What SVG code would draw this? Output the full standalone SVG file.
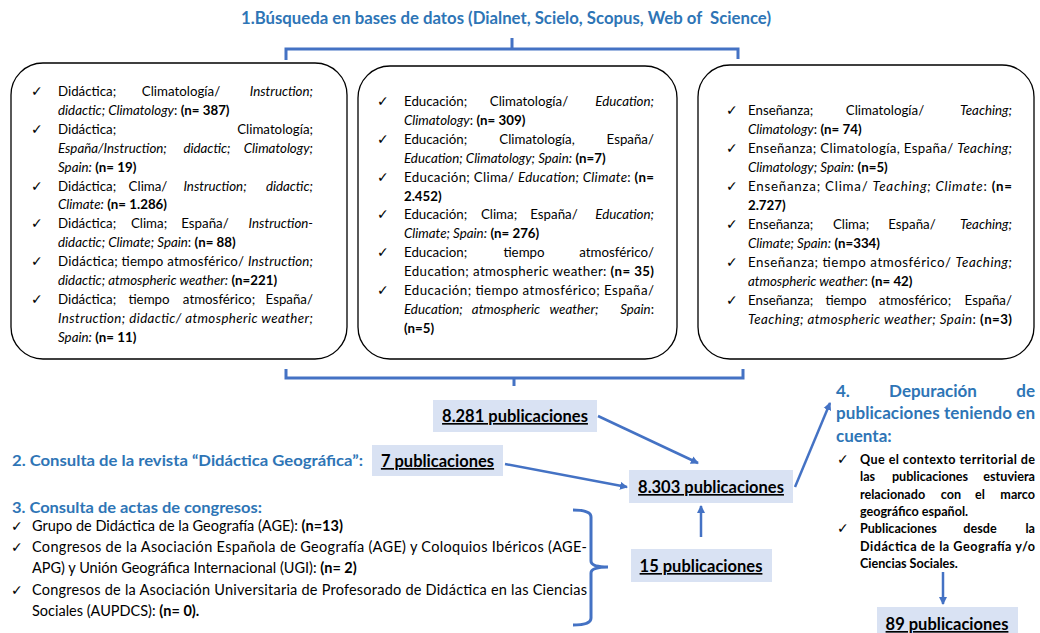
<svg xmlns="http://www.w3.org/2000/svg" width="1040" height="633" viewBox="0 0 1040 633">
<style>
.t{font-family:Lato,"Open Sans","Liberation Sans",sans-serif;font-size:13.3px;fill:#000}
.s3{font-family:Lato,"Open Sans","Liberation Sans",sans-serif;font-size:14.5px;fill:#000}
.s4{font-family:Lato,"Open Sans","Liberation Sans",sans-serif;font-size:12.6px;font-weight:bold;fill:#000}
.i{font-style:italic}
.b{font-weight:bold}
.ck{font-family:"DejaVu Sans",sans-serif;font-size:14px;fill:#000}
.h{font-family:Lato,"Open Sans","Liberation Sans",sans-serif;font-weight:bold;fill:#2E75B6}
.pub{font-family:Lato,"Open Sans","Liberation Sans",sans-serif;font-weight:bold;font-size:16.5px;text-decoration:underline;fill:#000}
.box{fill:#fff;stroke:#000;stroke-width:1.3}
.pb{fill:#D9E2F3}
.ln{stroke:#4472C4;stroke-width:2.5;fill:none}
.br{stroke:#4472C4;stroke-width:3;fill:none}
</style>
<defs>
<marker id="ah" markerWidth="10" markerHeight="10" refX="7" refY="5" orient="auto" markerUnits="userSpaceOnUse">
<path d="M0,1 L8,5 L0,9 Z" fill="#4472C4"/>
</marker>
</defs>

<g id="title">
<text class="h" x="241" y="24" font-size="16.5" textLength="530" lengthAdjust="spacingAndGlyphs" xml:space="preserve">1.Búsqueda en bases de datos (Dialnet, Scielo, Scopus, Web of  Science)</text>
</g>

<g id="box-didactica">
<rect class="box" x="11" y="63" width="336" height="296" rx="32"/>
<text class="ck" x="31" y="96">✓</text>
<text class="t" y="96"><tspan x="58">Didáctica;</tspan><tspan x="181" text-anchor="middle">Climatología/</tspan><tspan x="313" text-anchor="end" class="i">Instruction;</tspan></text>
<text class="t" x="58" y="114.9"><tspan class="i">didactic; Climatology</tspan>: <tspan class="b">(n= 387)</tspan></text>
<text class="ck" x="31" y="133.8">✓</text>
<text class="t" y="133.8"><tspan x="58">Didáctica;</tspan><tspan x="313" text-anchor="end">Climatología;</tspan></text>
<text class="t i" y="152.7"><tspan x="58">España/Instruction;</tspan><tspan x="207" text-anchor="middle">didactic;</tspan><tspan x="313" text-anchor="end">Climatology;</tspan></text>
<text class="t" x="58" y="171.6"><tspan class="i">Spain:</tspan> <tspan class="b">(n= 19)</tspan></text>
<text class="ck" x="31" y="190.5">✓</text>
<text class="t" y="190.5"><tspan x="58">Didáctica;</tspan><tspan x="148" text-anchor="middle">Clima/</tspan><tspan x="215" text-anchor="middle" class="i">Instruction;</tspan><tspan x="313" text-anchor="end" class="i">didactic;</tspan></text>
<text class="t" x="58" y="209.4"><tspan class="i">Climate:</tspan> <tspan class="b">(n= 1.286)</tspan></text>
<text class="ck" x="31" y="228.3">✓</text>
<text class="t" y="228.3"><tspan x="58">Didáctica;</tspan><tspan x="149" text-anchor="middle">Clima;</tspan><tspan x="205" text-anchor="middle">España/</tspan><tspan x="313" text-anchor="end" class="i">Instruction-</tspan></text>
<text class="t" x="58" y="247.2"><tspan class="i">didactic; Climate; Spain</tspan>: <tspan class="b">(n= 88)</tspan></text>
<text class="ck" x="31" y="266.1">✓</text>
<text class="t" x="58" y="266.1" textLength="255" lengthAdjust="spacing">Didáctica; tiempo atmosférico/ <tspan class="i">Instruction;</tspan></text>
<text class="t" x="58" y="285"><tspan class="i">didactic; atmospheric weather:</tspan> <tspan class="b">(n=221)</tspan></text>
<text class="ck" x="31" y="303.9">✓</text>
<text class="t" y="303.9"><tspan x="58">Didáctica;</tspan><tspan x="149" text-anchor="middle">tiempo</tspan><tspan x="219" text-anchor="middle">atmosférico;</tspan><tspan x="313" text-anchor="end">España/</tspan></text>
<text class="t i" x="58" y="322.8" textLength="255" lengthAdjust="spacing">Instruction; didactic/ atmospheric weather;</text>
<text class="t" x="58" y="341.7"><tspan class="i">Spain:</tspan> <tspan class="b">(n= 11)</tspan></text>
</g>

<g id="box-educacion">
<rect class="box" x="358" y="66" width="319" height="293" rx="32"/>
<text class="ck" x="377" y="106">✓</text>
<text class="t" y="106"><tspan x="404">Educación;</tspan><tspan x="529" text-anchor="middle">Climatología/</tspan><tspan x="654" text-anchor="end" class="i">Education;</tspan></text>
<text class="t" x="404" y="124.9"><tspan class="i">Climatology</tspan>: <tspan class="b">(n= 309)</tspan></text>
<text class="ck" x="377" y="143.8">✓</text>
<text class="t" y="143.8"><tspan x="404">Educación;</tspan><tspan x="537" text-anchor="middle">Climatología,</tspan><tspan x="654" text-anchor="end">España/</tspan></text>
<text class="t" x="404" y="162.7"><tspan class="i">Education; Climatology; Spain:</tspan> <tspan class="b">(n=7)</tspan></text>
<text class="ck" x="377" y="181.6">✓</text>
<text class="t" x="404" y="181.6" textLength="250" lengthAdjust="spacing">Educación; Clima/ <tspan class="i">Education; Climate</tspan>: <tspan class="b">(n=</tspan></text>
<text class="t b" x="404" y="200.5">2.452)</text>
<text class="ck" x="377" y="219.4">✓</text>
<text class="t" y="219.4"><tspan x="404">Educación;</tspan><tspan x="499" text-anchor="middle">Clima;</tspan><tspan x="554" text-anchor="middle">España/</tspan><tspan x="654" text-anchor="end" class="i">Education;</tspan></text>
<text class="t" x="404" y="238.3"><tspan class="i">Climate; Spain:</tspan> <tspan class="b">(n= 276)</tspan></text>
<text class="ck" x="377" y="257.2">✓</text>
<text class="t" y="257.2"><tspan x="404">Educacion;</tspan><tspan x="524" text-anchor="middle">tiempo</tspan><tspan x="654" text-anchor="end">atmosférico/</tspan></text>
<text class="t" x="404" y="276.1" textLength="250" lengthAdjust="spacing">Education; atmospheric weather: <tspan class="b">(n= 35)</tspan></text>
<text class="ck" x="377" y="295">✓</text>
<text class="t" x="404" y="295" textLength="250" lengthAdjust="spacing">Educación; tiempo atmosférico; España/</text>
<text class="t" y="313.9"><tspan x="404" class="i">Education;</tspan><tspan x="506" text-anchor="middle" class="i">atmospheric</tspan><tspan x="574" text-anchor="middle" class="i">weather;</tspan><tspan x="654" text-anchor="end"><tspan class="i">Spain</tspan>:</tspan></text>
<text class="t b" x="404" y="332.8">(n=5)</text>
</g>

<g id="box-ensenanza">
<rect class="box" x="698" y="65" width="336" height="294" rx="32"/>
<text class="ck" x="726" y="115">✓</text>
<text class="t" y="115"><tspan x="748">Enseñanza;</tspan><tspan x="885" text-anchor="middle">Climatología/</tspan><tspan x="1012" text-anchor="end" class="i">Teaching;</tspan></text>
<text class="t" x="748" y="134"><tspan class="i">Climatology</tspan>: <tspan class="b">(n= 74)</tspan></text>
<text class="ck" x="726" y="153">✓</text>
<text class="t" x="748" y="153" textLength="264" lengthAdjust="spacing">Enseñanza; Climatología, España/ <tspan class="i">Teaching;</tspan></text>
<text class="t" x="748" y="172"><tspan class="i">Climatology; Spain:</tspan> <tspan class="b">(n=5)</tspan></text>
<text class="ck" x="726" y="191">✓</text>
<text class="t" x="748" y="191" textLength="264" lengthAdjust="spacing">Enseñanza; Clima/ <tspan class="i">Teaching; Climate</tspan>: <tspan class="b">(n=</tspan></text>
<text class="t b" x="748" y="210">2.727)</text>
<text class="ck" x="726" y="229">✓</text>
<text class="t" y="229"><tspan x="748">Enseñanza;</tspan><tspan x="851" text-anchor="middle">Clima;</tspan><tspan x="912" text-anchor="middle">España/</tspan><tspan x="1012" text-anchor="end" class="i">Teaching;</tspan></text>
<text class="t" x="748" y="248"><tspan class="i">Climate; Spain:</tspan> <tspan class="b">(n=334)</tspan></text>
<text class="ck" x="726" y="267">✓</text>
<text class="t" x="748" y="267" textLength="264" lengthAdjust="spacing">Enseñanza; tiempo atmosférico/ <tspan class="i">Teaching;</tspan></text>
<text class="t" x="748" y="286"><tspan class="i">atmospheric weather</tspan>: <tspan class="b">(n= 42)</tspan></text>
<text class="ck" x="726" y="305">✓</text>
<text class="t" y="305"><tspan x="748">Enseñanza;</tspan><tspan x="846" text-anchor="middle">tiempo</tspan><tspan x="915" text-anchor="middle">atmosférico;</tspan><tspan x="1012" text-anchor="end">España/</tspan></text>
<text class="t" x="748" y="324" textLength="264" lengthAdjust="spacing"><tspan class="i">Teaching; atmospheric weather; Spain</tspan>: <tspan class="b">(n=3)</tspan></text>
</g>

<g id="pub-8281">
<rect class="pb" x="433" y="400" width="164" height="32"/>
<text class="pub" x="515" y="422" text-anchor="middle">8.281 publicaciones</text>
</g>

<g id="revista">
<text class="h" x="12" y="466" font-size="15.5" textLength="351" lengthAdjust="spacingAndGlyphs">2. Consulta de la revista “Didáctica Geográfica”:</text>
</g>

<g id="pub-7">
<rect class="pb" x="372" y="445" width="131" height="31"/>
<text class="pub" x="437.5" y="467" text-anchor="middle">7 publicaciones</text>
</g>

<g id="pub-8303">
<rect class="pb" x="629" y="470" width="164" height="33"/>
<text class="pub" x="711" y="493" text-anchor="middle">8.303 publicaciones</text>
</g>

<g id="congresos">
<text class="h" x="12" y="513" font-size="15.5" textLength="250" lengthAdjust="spacingAndGlyphs">3. Consulta de actas de congresos:</text>
<text class="ck" x="11" y="531">✓</text>
<text class="s3" x="32" y="531">Grupo de Didáctica de la Geografía (AGE): <tspan class="b">(n=13)</tspan></text>
<text class="ck" x="11" y="552">✓</text>
<text class="s3" x="32" y="552" textLength="555" lengthAdjust="spacing">Congresos de la Asociación Española de Geografía (AGE) y Coloquios Ibéricos (AGE-</text>
<text class="s3" x="32" y="573">APG) y Unión Geográfica Internacional (UGI): <tspan class="b">(n= 2)</tspan></text>
<text class="ck" x="11" y="595">✓</text>
<text class="s3" x="32" y="595" textLength="555" lengthAdjust="spacing">Congresos de la Asociación Universitaria de Profesorado de Didáctica en las Ciencias</text>
<text class="s3" x="32" y="616">Sociales (AUPDCS): <tspan class="b">(n= 0).</tspan></text>
</g>

<g id="pub-15">
<rect class="pb" x="631" y="549" width="141" height="33"/>
<text class="pub" x="701" y="572" text-anchor="middle">15 publicaciones</text>
</g>

<g id="depuracion">
<text class="h" font-size="17" y="397"><tspan x="836">4.</tspan><tspan x="933" text-anchor="middle">Depuración</tspan><tspan x="1035" text-anchor="end">de</tspan></text>
<text class="h" font-size="17" x="836" y="419" textLength="199" lengthAdjust="spacing">publicaciones teniendo en</text>
<text class="h" font-size="17" x="836" y="442">cuenta:</text>
<text class="ck" x="837" y="464">✓</text>
<text class="s4" x="860" y="464" textLength="175" lengthAdjust="spacing">Que el contexto territorial de</text>
<text class="s4" y="481"><tspan x="860">las</tspan><tspan x="930" text-anchor="middle">publicaciones</tspan><tspan x="1035" text-anchor="end">estuviera</tspan></text>
<text class="s4" y="499"><tspan x="860">relacionado</tspan><tspan x="951" text-anchor="middle">con</tspan><tspan x="980" text-anchor="middle">el</tspan><tspan x="1035" text-anchor="end">marco</tspan></text>
<text class="s4" x="860" y="516">geográfico español.</text>
<text class="ck" x="837" y="533">✓</text>
<text class="s4" y="533"><tspan x="860">Publicaciones</tspan><tspan x="980" text-anchor="middle">desde</tspan><tspan x="1035" text-anchor="end">la</tspan></text>
<text class="s4" x="860" y="551" textLength="175" lengthAdjust="spacing">Didáctica de la Geografía y/o</text>
<text class="s4" x="860" y="568">Ciencias Sociales.</text>
</g>

<g id="pub-89">
<rect class="pb" x="877" y="607" width="141" height="33"/>
<text class="pub" x="947" y="630" text-anchor="middle">89 publicaciones</text>
</g>

<g id="connectors">
<path class="br" d="M286,60 V49 H738 V59 M512,49 V38"/>
<path class="br" d="M286,369 V378 H743 V369 M514,378 V386"/>
<path class="br" d="M573,510 Q591,510 591,517 V561 Q591,567 608,567 Q591,567 591,573 V618 Q591,625 573,625"/>
<line class="ln" x1="598" y1="416" x2="698" y2="463" marker-end="url(#ah)"/>
<line class="ln" x1="505" y1="464" x2="627" y2="487" marker-end="url(#ah)"/>
<line class="ln" x1="701" y1="537" x2="701" y2="506" marker-end="url(#ah)"/>
<line class="ln" x1="795" y1="487" x2="830" y2="403" marker-end="url(#ah)"/>
<line class="ln" x1="943" y1="572" x2="943" y2="604" marker-end="url(#ah)"/>
</g>
</svg>
